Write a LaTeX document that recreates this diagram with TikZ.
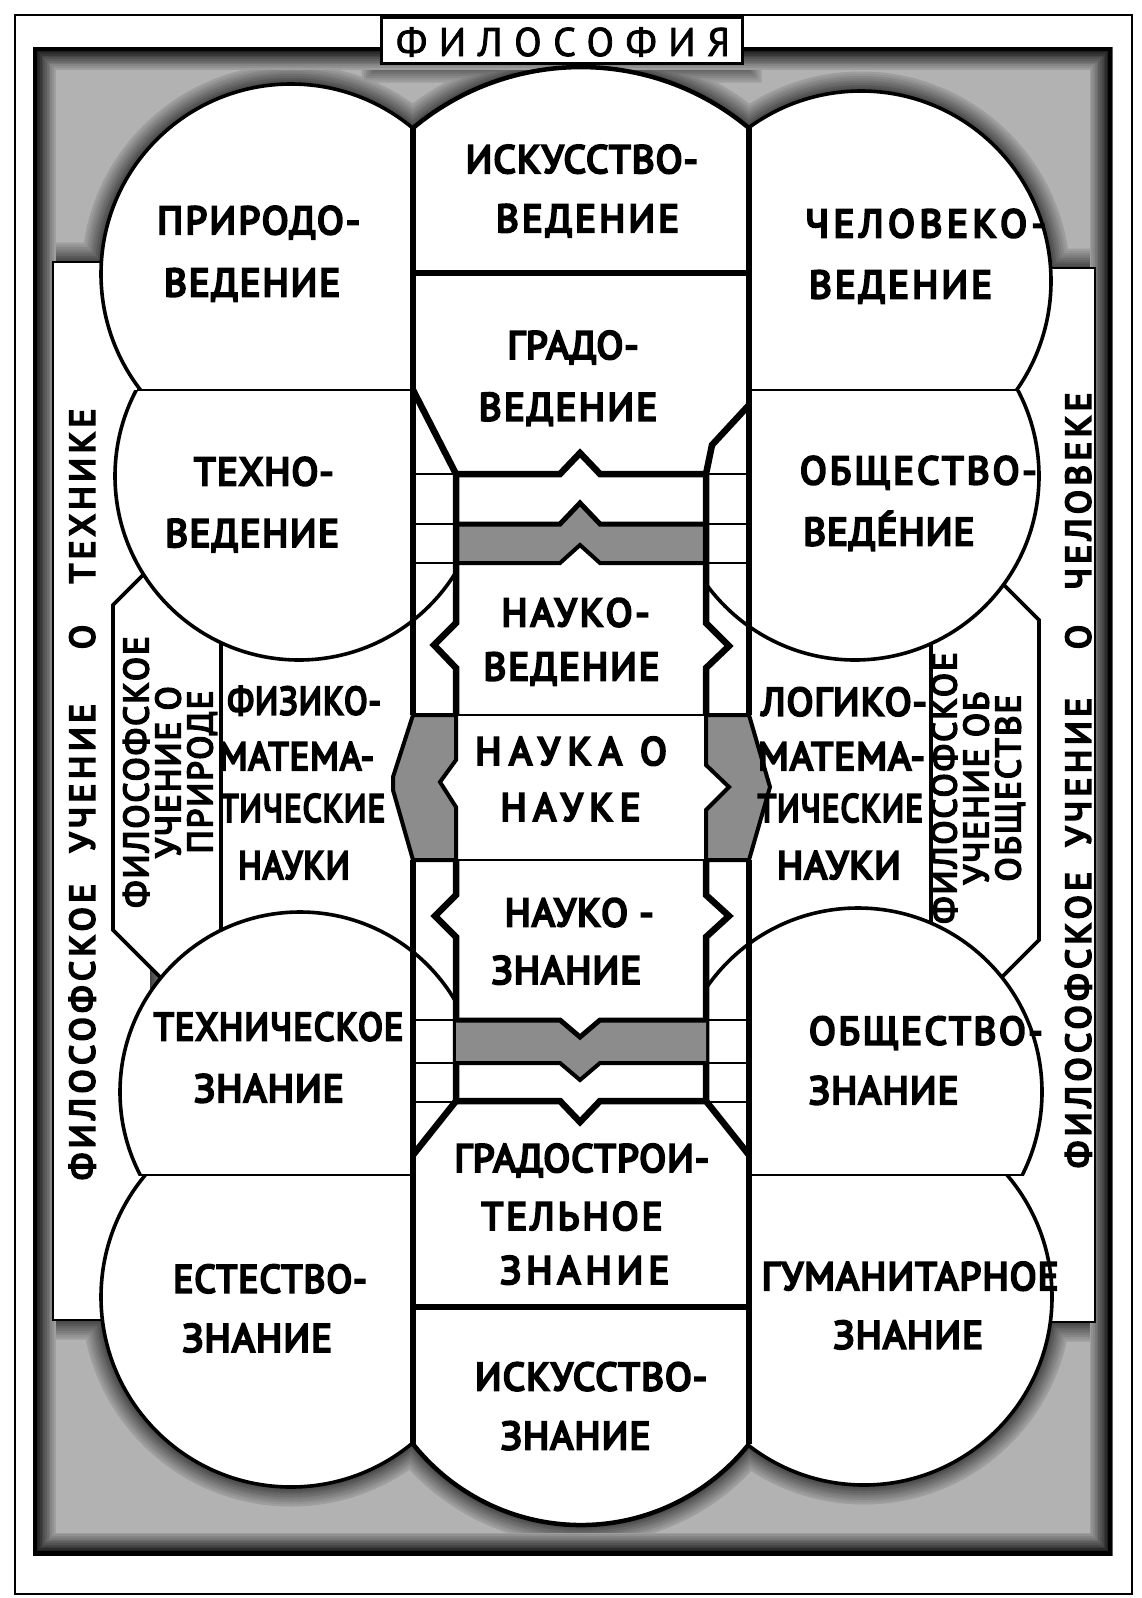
\documentclass[tikz,border=0pt]{standalone}
\usepackage{fontspec}
\setmainfont{PT Sans}
\newfontfamily\lblfont[LetterSpace=3, FakeBold=6]{PT Sans}
\newfontfamily\ttlfont[LetterSpace=29, FakeBold=2]{PT Sans}
\newfontfamily\vfont[LetterSpace=13, FakeBold=6]{PT Sans}
\newfontfamily\pfont[LetterSpace=6, FakeBold=5]{PT Sans}
\begin{document}
\begin{tikzpicture}[x=1pt,y=-1pt,
  lab/.style={font=\lblfont\fontsize{39}{45}\selectfont, inner sep=0pt, text height=28pt, text depth=0pt},
  lsp/.style={font=\lblfont\fontsize{39}{45}\selectfont\addfontfeature{LetterSpace=#1}},
  vlab/.style={font=\vfont\fontsize{35}{40}\selectfont, inner sep=0pt, rotate=90, text height=25pt, text depth=0pt},
  plab/.style={font=\pfont\fontsize{35}{32}\selectfont, inner sep=0pt, rotate=90, align=center},
  arcline/.style={line width=3.6pt},
  colline/.style={line width=6.5pt, line join=miter},
  rung/.style={line width=2.6pt},
  band/.style={fill=black!45},
]
\useasboundingbox (0,0) rectangle (1142,1598);
\fill[white] (0,0) rectangle (1142,1598);
% outer thin frame
\draw[line width=2.5pt] (15,15) rectangle (1132,1594);
% shaded frame
\fill[black!30] (33,47) rectangle (1112,1555);
\begin{scope}
  \clip (33,47) rectangle (1112,1555);
  \foreach \i in {8,7,...,0}{
    \pgfmathsetmacro{\w}{3+4.5*\i}
    \pgfmathtruncatemacro{\c}{74-4.5*\i}
    \draw[line width=\w pt, black!\c]
      (291,274) circle[radius=190]
      (861,281) circle[radius=190]
      (291,1297) circle[radius=190]
      (864,1297) circle[radius=188]
      (413,128) arc[start angle=230.1, end angle=309.9, radius=261.8] -- (749,1444) arc[start angle=38.5, end angle=141.5, radius=214.7] -- cycle
      (53,262) rectangle (150,1320)
      (1000,268) rectangle (1095,1322)
      (381,17) rectangle (742,63);
  }
  \foreach \i in {10,9,...,0}{
    \pgfmathsetmacro{\w}{10+3.5*\i}
    \pgfmathtruncatemacro{\c}{88-5*\i}
    \draw[line width=\w pt, black!\c] (33,47) rectangle (1112,1555);
  }
  \draw[line width=8pt, black] (33,47) rectangle (1112,1555);
\end{scope}
% white areas
\fill[white] (53,262) rectangle (150,1320);
\fill[white] (1000,268) rectangle (1095,1322);
\fill[white] (291,274) circle[radius=190] (299,476) circle[radius=184] (300,1092) circle[radius=180] (291,1297) circle[radius=190]
  (861,281) circle[radius=190] (855,476) circle[radius=184] (858,1092) circle[radius=184] (864,1297) circle[radius=188];
\fill[white] (113,605) -- (143.5,574.5) -- (221,560) -- (221,985) -- (160.8,977.8) -- (113,930) -- cycle;
\fill[white] (221,560) rectangle (413,1000);
\fill[white] (1039,620) -- (1003.6,584.6) -- (931,560) -- (931,1000) -- (1001.8,977.2) -- (1039,940) -- cycle;
\fill[white] (749,560) rectangle (931,1000);
\fill[white] (413,128) arc[start angle=230.1, end angle=309.9, radius=261.8] -- (749,1444) arc[start angle=38.5, end angle=141.5, radius=214.7] -- cycle;
% title box
\filldraw[fill=white, line width=3pt] (381,17) rectangle (742,63);
% strip edges
\draw[line width=1.5pt] (101.4,262) -- (53,262) -- (53,1320) -- (102.4,1320);
\draw[line width=1.5pt] (1050.6,268) -- (1095,268) -- (1095,1322) -- (1050.3,1322);
% circle outlines
\begin{scope}\clip (0,0) rectangle (413,390); \draw[arcline] (291,274) circle[radius=190]; \end{scope}
\begin{scope}\clip (0,390) rectangle (456,800); \draw[arcline] (299,476) circle[radius=184]; \end{scope}
\begin{scope}\clip (0,800) rectangle (456,1175); \draw[arcline] (300,1092) circle[radius=180]; \end{scope}
\begin{scope}\clip (0,1175) rectangle (413,1598); \draw[arcline] (291,1297) circle[radius=190]; \end{scope}
\begin{scope}\clip (749,0) rectangle (1142,390); \draw[arcline] (861,281) circle[radius=190]; \end{scope}
\begin{scope}\clip (706,390) rectangle (1142,800); \draw[arcline] (855,476) circle[radius=184]; \end{scope}
\begin{scope}\clip (706,800) rectangle (1142,1175); \draw[arcline] (858,1092) circle[radius=184]; \end{scope}
\begin{scope}\clip (749,1175) rectangle (1142,1598); \draw[arcline] (864,1297) circle[radius=188]; \end{scope}
% separators
\draw[rung] (137,390) -- (413,390);
\draw[rung] (749,390) -- (1016,390);
\draw[rung] (140,1175) -- (413,1175);
\draw[rung] (749,1175) -- (1022,1175);
% panels
\draw[arcline] (143.5,574.5) -- (113,605) -- (113,930) -- (160.8,977.8);
\draw[arcline] (221,642.6) -- (221,930.3);
\draw[arcline] (1003.6,584.6) -- (1039,620) -- (1039,940) -- (1001.8,977.2);
\draw[arcline] (931,643.6) -- (931,923);
% central column
\draw[line width=4.5pt] (413,128) arc[start angle=230.1, end angle=309.9, radius=261.8];
\draw[line width=4.5pt] (749,1444) arc[start angle=38.5, end angle=141.5, radius=214.7];
\draw[colline] (413,128) -- (413,715);
\draw[colline] (413,860) -- (413,1444);
\draw[colline] (749,128) -- (749,715);
\draw[colline] (749,860) -- (749,1444);
\draw[colline] (413,273) -- (749,273);
\draw[colline] (413,1307) -- (749,1307);
% gradovedenie walls and bottom
\draw[colline] (413,390) -- (456,474);
\draw[colline] (749,405) -- (712,445) -- (706,474);
\draw[colline] (456,474) -- (560,474) -- (580,453) -- (600,474) -- (706,474);
% ladder rungs
\foreach \yy in {474,524,563,1020,1063,1102}{
  \draw[rung] (413,\yy) -- (456,\yy);
  \draw[rung] (706,\yy) -- (749,\yy);
}
% upper band
\fill[band] (456,524) -- (560,524) -- (580,503) -- (600,524) -- (706,524) -- (706,563) -- (600,563) -- (580,545) -- (560,563) -- (456,563) -- cycle;
\draw[line width=5pt] (456,524) -- (560,524) -- (580,503) -- (600,524) -- (706,524);
\draw[line width=4pt] (456,563) -- (560,563) -- (580,545) -- (600,563) -- (706,563);
% inner lines (naukovedenie)
\draw[colline] (456,474) -- (456,623) -- (434,645) -- (456,668) -- (456,715);
\draw[colline] (706,474) -- (706,623) -- (729,646) -- (706,668) -- (706,715);
% nauka o nauke
\draw[rung] (413,715) -- (749,715);
\draw[rung] (413,860) -- (749,860);
\filldraw[band, line width=4pt, line join=miter] (413,715) -- (393,777) -- (393,790) -- (413,860) -- (456,860) -- (456,807) -- (440,782) -- (456,760) -- (456,715) -- cycle;
\filldraw[band, line width=4pt, line join=miter] (749,715) -- (770,787) -- (749,860) -- (706,860) -- (706,810) -- (729,787) -- (706,765) -- (706,715) -- cycle;
% naukoznanie inner lines
\draw[colline] (456,860) -- (456,895) -- (435,916) -- (456,937) -- (456,1101);
\draw[colline] (706,860) -- (706,895) -- (729,916) -- (706,937) -- (706,1101);
% lower band
\fill[band] (456,1020) -- (560,1020) -- (580,1037) -- (600,1020) -- (706,1020) -- (706,1063) -- (600,1063) -- (580,1080) -- (560,1063) -- (456,1063) -- cycle;
\draw[line width=5pt] (456,1020) -- (560,1020) -- (580,1037) -- (600,1020) -- (706,1020);
\draw[line width=4pt] (456,1063) -- (560,1063) -- (580,1080) -- (600,1063) -- (706,1063);
% gradostroitelnoe
\draw[colline] (456,1101) -- (560,1101) -- (580,1122) -- (600,1101) -- (706,1101);
\draw[colline] (456,1101) -- (413,1155);
\draw[colline] (706,1101) -- (749,1155);
% title
\node[font=\ttlfont\fontsize{40}{42}\selectfont, inner sep=0pt, text height=28pt, text depth=0pt] (ttl) at (563,42) {ФИЛОСОФИЯ};
% labels
\node[lab, lsp=6] (l1) at (258.7,220.0) {ПРИРОДО-};
\node[lab, lsp=5] (l2) at (252.1,282.2) {ВЕДЕНИЕ};
\node[lab] (l3) at (263.8,471.1) {ТЕХНО-};
\node[lab, lsp=4] (l4) at (252.1,532.8) {ВЕДЕНИЕ};
\node[lab, xscale=0.875] (l5) at (304.1,700.4) {ФИЗИКО-};
\node[lab, xscale=0.93] (l6) at (296.4,755.9) {МАТЕМА-};
\node[lab, xscale=0.85] (l7) at (302.6,807.8) {ТИЧЕСКИЕ};
\node[lab, xscale=0.9] (l8) at (293.9,864.9) {НАУКИ};
\node[lab, xscale=0.93] (l9) at (278.6,1026.3) {ТЕХНИЧЕСКОЕ};
\node[lab] (l10) at (268.9,1088.0) {ЗНАНИЕ};
\node[lab, xscale=0.96] (l11) at (270.0,1278.5) {ЕСТЕСТВО-};
\node[lab] (l12) at (257.2,1337.6) {ЗНАНИЕ};
\node[lab] (c1) at (581.7,158.9) {ИСКУССТВО-};
\node[lab, lsp=8] (c2) at (587.5,218.0) {ВЕДЕНИЕ};
\node[lab] (c3) at (573.0,344.8) {ГРАДО-};
\node[lab, lsp=6] (c4) at (568,406.5) {ВЕДЕНИЕ};
\node[lab, lsp=8] (c5) at (575.5,612.2) {НАУКО-};
\node[lab, lsp=5] (c6) at (571.5,666.2) {ВЕДЕНИЕ};
\node[lab, lsp=20] (c7) at (571,750.8) {НАУКА О};
\node[lab, lsp=17] (c8) at (570.5,806.8) {НАУКЕ};
\node[lab] (c9) at (579.1,912.2) {НАУКО -};
\node[lab] (c10) at (566.4,969.8) {ЗНАНИЕ};
\node[lab] (c11) at (581.7,1157.8) {ГРАДОСТРОИ-};
\node[lab, lsp=8] (c12) at (572,1215.8) {ТЕЛЬНОЕ};
\node[lab, lsp=13] (c13) at (584.7,1269.8) {ЗНАНИЕ};
\node[lab] (c14) at (591.0,1376.3) {ИСКУССТВО-};
\node[lab] (c15) at (575.6,1435.3) {ЗНАНИЕ};
\node[lab, lsp=12] (r1) at (925.5,223.1) {ЧЕЛОВЕКО-};
\node[lab, lsp=8] (r2) at (900.5,284.2) {ВЕДЕНИЕ};
\node[lab, lsp=8] (r3) at (918.3,470.1) {ОБЩЕСТВО-};
\node[lab] (r4) at (888.8,531.3) {ВЕДЕ́НИЕ};
\node[lab] (r5) at (844.0,701.4) {ЛОГИКО-};
\node[lab] (r6) at (841.4,755.9) {МАТЕМА-};
\node[lab, xscale=0.85] (r7) at (840.4,807.8) {ТИЧЕСКИЕ};
\node[lab] (r8) at (838.9,864.9) {НАУКИ};
\node[lab, lsp=7] (r9) at (925.8,1030.4) {ОБЩЕСТВО-};
\node[lab] (r10) at (883.7,1090.0) {ЗНАНИЕ};
\node[lab] (r11) at (910.2,1275.9) {ГУМАНИТАРНОЕ};
\node[lab] (r12) at (908.2,1334.5) {ЗНАНИЕ};
% strips
\node[vlab] (sl1) at (82,1032) {ФИЛОСОФСКОЕ};
\node[vlab] (sl2) at (82,778) {УЧЕНИЕ};
\node[vlab] (sl3) at (82,637) {О};
\node[vlab] (sl4) at (82,496) {ТЕХНИКЕ};
\node[vlab] (sr1) at (1078,1020) {ФИЛОСОФСКОЕ};
\node[vlab] (sr2) at (1078,772) {УЧЕНИЕ};
\node[vlab] (sr3) at (1078,637) {О};
\node[vlab] (sr4) at (1078,491) {ЧЕЛОВЕКЕ};
% panels
\node[plab] (pl) at (170,772) {ФИЛОСОФСКОЕ\\УЧЕНИЕ О\\ПРИРОДЕ};
\node[plab] (pr) at (978,788) {ФИЛОСОФСКОЕ\\УЧЕНИЕ ОБ\\ОБЩЕСТВЕ};
\end{tikzpicture}
\end{document}
